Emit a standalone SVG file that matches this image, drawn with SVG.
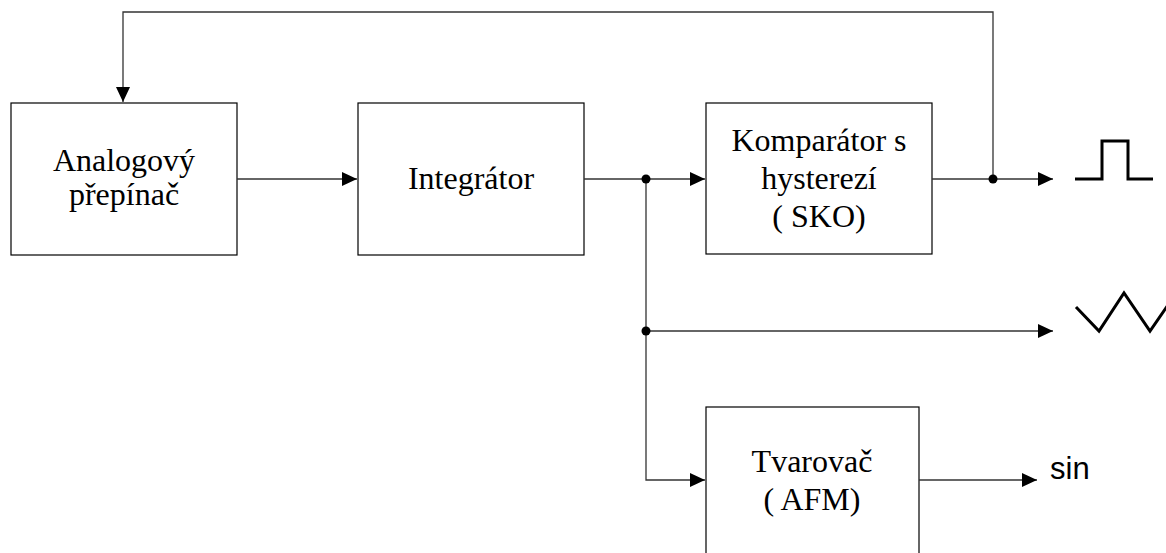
<svg xmlns="http://www.w3.org/2000/svg" width="1166" height="553" viewBox="0 0 1166 553">
<style>
.box{fill:#fff;stroke:#000;stroke-width:1.2}
.lbl{font-family:"Liberation Serif","Times New Roman",serif;font-size:32px;fill:#000;text-anchor:middle}
.wire{fill:none;stroke:#333;stroke-width:1.3}
.sig{fill:none;stroke:#000;stroke-width:3}
</style>
<defs>
<marker id="arr" markerWidth="16" markerHeight="14" refX="15" refY="7" orient="auto" markerUnits="userSpaceOnUse">
<path d="M0,0 L15,7 L0,14 Z" fill="#000"/>
</marker>
</defs>
<rect width="1166" height="553" fill="#fff"/>
<g id="n1"><rect class="box" x="11" y="103" width="226" height="152"/>
<text class="lbl" x="124" y="171">Analogový</text><text class="lbl" x="124" y="205">přepínač</text></g>
<g id="n2"><rect class="box" x="358" y="103" width="226" height="152"/>
<text class="lbl" x="471" y="189">Integrátor</text></g>
<g id="n3"><rect class="box" x="706" y="103" width="226" height="151"/>
<text class="lbl" x="819" y="151">Komparátor s</text><text class="lbl" x="819" y="189">hysterezí</text><text class="lbl" x="819" y="227">( SKO)</text></g>
<g id="n4"><rect class="box" x="706" y="407" width="213" height="160"/>
<text class="lbl" x="812" y="472">Tvarovač</text><text class="lbl" x="812" y="510">( AFM)</text></g>
<g id="connectors">
<path class="wire" d="M237,179 H357" marker-end="url(#arr)"/>
<path class="wire" d="M584,179 H705" marker-end="url(#arr)"/>
<path class="wire" d="M932,179 H1053" marker-end="url(#arr)"/>
<path class="wire" d="M993,179 V12 H123 V102" marker-end="url(#arr)"/>
<path class="wire" d="M646,179 V480 H705" marker-end="url(#arr)"/>
<path class="wire" d="M646,331 H1053" marker-end="url(#arr)"/>
<path class="wire" d="M919,480 H1037" marker-end="url(#arr)"/>
<circle cx="646" cy="179" r="4.5" fill="#000"/>
<circle cx="993" cy="179" r="4.5" fill="#000"/>
<circle cx="646" cy="331" r="4.5" fill="#000"/>
</g>
<g id="outputs">
<path class="sig" d="M1075,179 H1102 V141 H1128 V179 H1153"/>
<path class="sig" d="M1076,307 L1099,331 L1124,293 L1150,331 L1168,305"/>
<text x="1050" y="479" font-family="Liberation Sans,Arial,sans-serif" font-size="31" fill="#000">sin</text>
</g>
</svg>
